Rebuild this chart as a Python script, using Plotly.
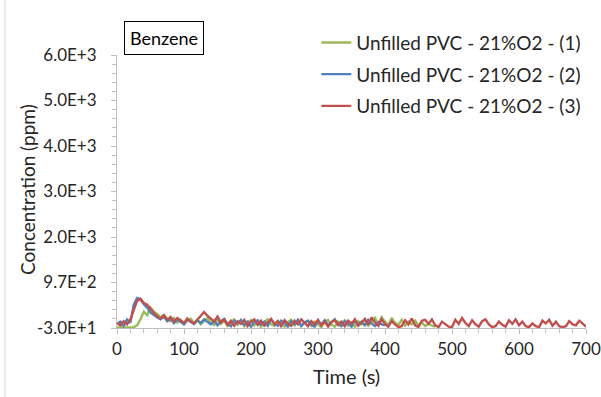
import plotly.graph_objects as go

# ---------------- data ----------------
step = 5
green_vals = [
    -20, -20, -10, -20, -20, -10, 30, 160, 330, 250, 420, 330, 280, 200, 260, 170,
    120, 190, 90, 150, 60, 130, 170, 80, 140, 50, 120, 190, 80, 40, 150, 60,
    130, 20, 100, 160, 40, 120, 10, 90, 140, 30, 110, 0, 100, 160, 50, 20,
    120, 60, 0, 100, 150, 30, 110, 10, 90, 130, 20, 110, 50, -10, 100, 150,
    40, 0, 110, 50, 140, 20, 90, 0, 120, 50, 160, 20, 100, 190, 50, 210,
    110, 30, 190, 80, 40, 150, 20, 110, 50, 130, 30, 90, 10, 70, 20, 0,
]
blue_vals = [
    60, 110, 20, 160, 90, 480, 630, 600, 490, 420, 310, 250, 200, 160, 220, 120,
    180, 80, 160, 100, 50, 150, 100, 60, 140, 80, 160, 100, 50, 130, 30, 120,
    170, 60, 10, 130, 70, 150, 40, 110, 0, 100, 140, 50, 110, 20, 160, 70,
    20, 130, 80, 0, 120, 50, 150, 20, 90, 130, 40, 0, 110, 50, 140, 30,
    100, 160, 50, 10, 120, 70, 0, 130, 50, 110, 30, 150, 70, 10, 100, 50,
    30,
]
red_vals = [
    80, 30, 120, 50, 160, 350, 570, 610, 520, 480, 380, 300, 230, 180, 250, 150,
    210, 110, 190, 130, 80, 180, 110, 70, 160, 230, 320, 240, 180, 110, 220, 90,
    160, 40, 130, 20, 120, 60, 150, 10, 110, 160, 40, 130, 20, 100, 170, 50,
    120, 10, 140, 70, 20, 130, 50, 160, 80, 10, 120, 50, 150, 30, 110, 0,
    100, 140, 40, 110, 10, 130, 60, 160, 20, 100, 170, 40, 200, 90, 20, 160,
    60, 0, 120, 50, -10, 10, 140, 50, 180, 30, -10, 130, 150, 60, 160, 30,
    -10, 110, 50, 0, -10, 150, 60, 190, 80, 10, 140, 50, 0, 120, 160, 50,
    -10, 10, 110, 40, 0, 140, 60, 160, 30, 110, 10, -10, 70, 10, -10, 130,
    70, 150, 20, 110, 10, -10, 10, 120, 50, 30, 130, 70, 0,
]
green_t = [i * step for i in range(len(green_vals))]
blue_t = [i * step for i in range(len(blue_vals))]
red_t = [i * step for i in range(len(red_vals))]

series_names = ["Unfilled PVC - 21%O2 - (1)", "Unfilled PVC - 21%O2 - (2)", "Unfilled PVC - 21%O2 - (3)"]
series_colors = ["#9BBB59", "#4F81BD", "#C0504D"]

y_tickvals = [-30, 970, 1970, 2970, 3970, 4970, 5970]
y_ticktext = ["-3.0E+1", "9.7E+2", "2.0E+3", "3.0E+3", "4.0E+3", "5.0E+3", "6.0E+3"]
x_tickvals = [0, 100, 200, 300, 400, 500, 600, 700]

FONT = "Lato"
TXT = "#262626"

fig = go.Figure()
for t, v, name, col in zip([green_t, blue_t, red_t], [green_vals, blue_vals, red_vals],
                           series_names, series_colors):
    fig.add_trace(go.Scatter(x=t, y=v, mode="lines", name=name,
                             line=dict(color=col, width=2.4), legendgroup=name))

axis_col = "#BFBFBF"
fig.update_layout(
    width=601, height=397,
    margin=dict(l=117, r=15, t=55, b=69),
    paper_bgcolor="white", plot_bgcolor="white",
    font=dict(family=FONT, size=17, color=TXT),
    showlegend=True,
    legend=dict(x=0.425, xanchor="left", y=1.115, yanchor="top",
                bgcolor="rgba(0,0,0,0)", font=dict(size=19, color=TXT),
                tracegroupgap=4),
    xaxis=dict(range=[0, 700], tickvals=x_tickvals, showgrid=False, zeroline=False,
               showline=True, linecolor=axis_col, linewidth=1, automargin=False,
               ticks="outside", ticklen=5, tickcolor=axis_col,
               minor=dict(dtick=20, tick0=0, ticks="outside", ticklen=4, tickcolor=axis_col),
               tickfont=dict(size=17), ticklabelstandoff=1, ticklabeloverflow="allow"),
    yaxis=dict(range=[-30, 5970], tickvals=y_tickvals, ticktext=y_ticktext,
               showgrid=False, zeroline=False, automargin=False,
               showline=True, linecolor=axis_col, linewidth=1,
               ticks="outside", ticklen=5, tickcolor=axis_col,
               minor=dict(dtick=200, tick0=-30, ticks="outside", ticklen=4, tickcolor=axis_col),
               tickfont=dict(size=17), ticklabelstandoff=11, ticklabeloverflow="allow"),
)

# axis titles
fig.add_annotation(text="Concentration (ppm)", xref="paper", yref="paper",
                   x=-0.192, y=0.509, xanchor="center", yanchor="middle",
                   textangle=-90, showarrow=False, font=dict(size=19, color=TXT))
fig.add_annotation(text="Time (s)", xref="paper", yref="paper",
                   x=0.49, y=-0.176, xanchor="center", yanchor="middle",
                   showarrow=False, font=dict(size=20, color=TXT))

fig.add_annotation(text="Benzene", xref="paper", yref="paper", x=0.015, y=1.0,
                   xanchor="left", yanchor="bottom", showarrow=False,
                   font=dict(size=18, color="black"), bordercolor="black",
                   borderwidth=1, borderpad=5, bgcolor="white")

fig.add_shape(type="line", xref="paper", yref="paper", x0=-0.239, x1=-0.239,
              y0=-0.26, y1=1.25, line=dict(color="#D9D9D9", width=1))

fig.write_html("out.html", config={"displayModeBar": False},
               post_script="document.body.style.margin='0';document.body.style.overflow='hidden';")
